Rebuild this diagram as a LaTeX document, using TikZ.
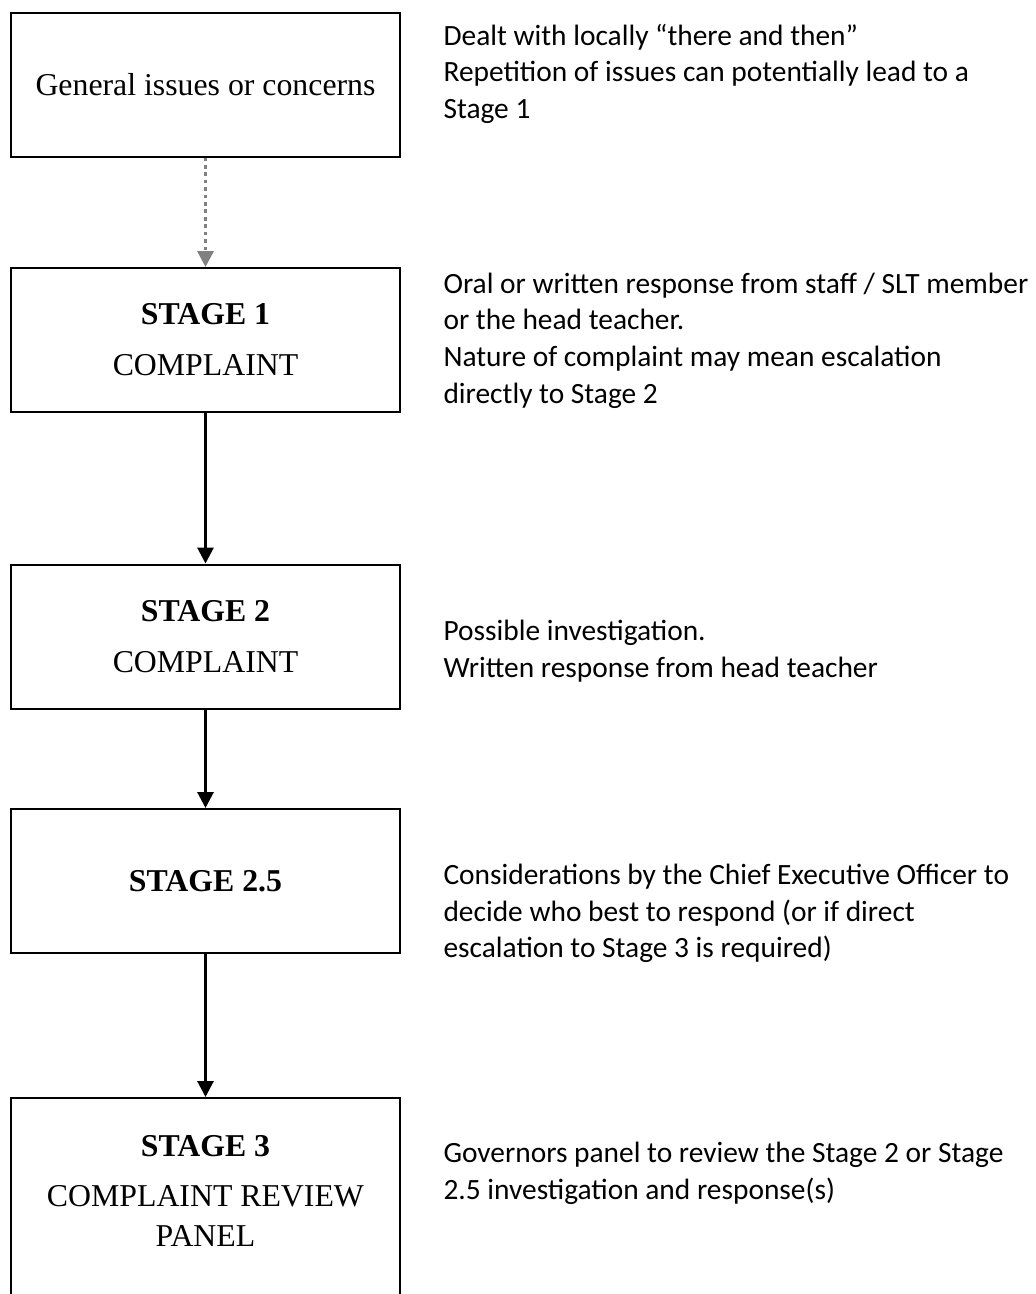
\documentclass[tikz,border=0pt]{standalone}
\usepackage{fontspec}
\setmainfont{Liberation Serif}
\newfontfamily\notefont{Carlito}
\usetikzlibrary{arrows.meta}
\definecolor{flowgray}{HTML}{808080}
\newdimen\pxu
\pxu=0.3774pt

\begin{document}
\begin{tikzpicture}[x=0.3774pt, y=-0.3774pt,
  stagebox/.style={draw, line width=0.75pt, minimum width=389\pxu, minimum height=144\pxu,
    inner sep=0pt, align=center, font=\fontsize{12}{15.1}\selectfont},
  stagetext/.style={inner sep=0pt, align=center, font=\fontsize{12}{15.1}\selectfont},
  note/.style={anchor=west, inner sep=0pt, align=left, font=\notefont\fontsize{11.1}{13.8}\selectfont},
  flow/.style={line width=1.1pt, -{Triangle[width=6pt, length=6pt]}},
  maybe/.style={flowgray, line width=1.2pt, dash pattern=on 1.4pt off 1.4pt, -{Triangle[width=6pt, length=6pt]}}]
  \clip (0,0) rectangle (1035,1294);
  % boxes on the left
  \node[stagebox] (general) at (205.5,84.5) {General issues or concerns};
  \node[stagebox] (stageone) at (205.5,340) {\textbf{STAGE 1}\\[4.2pt] COMPLAINT};
  \node[stagebox] (stagetwo) at (205.5,636.5) {\textbf{STAGE 2}\\[4.2pt] COMPLAINT};
  \node[stagebox] (stagetwohalf) at (205.5,881) {\textbf{STAGE 2.5}};
  \node[stagebox, minimum height=260\pxu, anchor=north] (stagethree) at (205.5,1097) {};
  \node[stagetext] (stagethreetext) at (205.5,1191) {\textbf{STAGE 3}\\[3.5pt] COMPLAINT REVIEW\\ PANEL};
  % notes on the right
  \node[note] (generalnote) at (443,73.5) {Dealt with locally “there and then”\\ Repetition of issues can potentially lead to a\\ Stage 1};
  \node[note] (stageonenote) at (443,340.5) {Oral or written response from staff / SLT member\\ or the head teacher.\\ Nature of complaint may mean escalation\\ directly to Stage 2};
  \node[note] (stagetwonote) at (443,651) {Possible investigation.\\ Written response from head teacher};
  \node[note] (stagetwohalfnote) at (443,913.5) {Considerations by the Chief Executive Officer to\\ decide who best to respond (or if direct\\ escalation to Stage 3 is required)};
  \node[note] (stagethreenote) at (443,1173.5) {Governors panel to review the Stage 2 or Stage\\ 2.5 investigation and response(s)};
  % arrows
  \draw[maybe] (general) -- (stageone);
  \draw[flow] (stageone) -- (stagetwo);
  \draw[flow] (stagetwo) -- (stagetwohalf);
  \draw[flow] (stagetwohalf.south) -- (stagethree.north);
\end{tikzpicture}
\end{document}
